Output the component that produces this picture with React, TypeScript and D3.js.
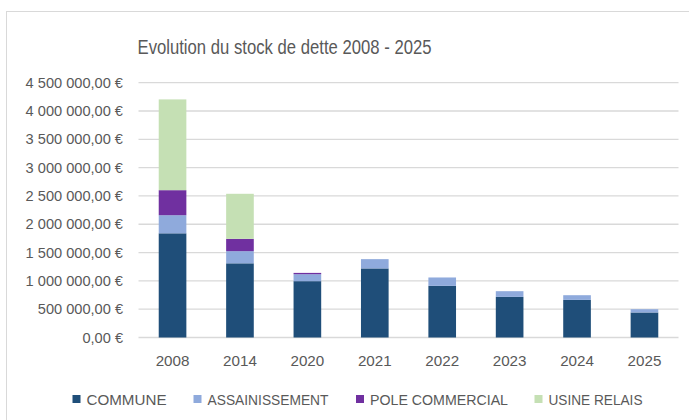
import React from 'react';
import * as d3 from 'd3';

const years = ['2008', '2014', '2020', '2021', '2022', '2023', '2024', '2025'];
const commune = [1840000, 1310000, 995000, 1220000, 912000, 717000, 664000, 442000];
const assainissement = [320000, 215000, 123000, 164000, 148000, 101000, 83000, 58000];
const poleCommercial = [442000, 217000, 23000, 0, 0, 0, 0, 0];
const usineRelais = [1603000, 796000, 0, 0, 0, 0, 0, 0];
const seriesNames = ['COMMUNE', 'ASSAINISSEMENT', 'POLE COMMERCIAL', 'USINE RELAIS'];
const yTicks = [0, 500000, 1000000, 1500000, 2000000, 2500000, 3000000, 3500000, 4000000, 4500000];

const colors = ['#1F4E79', '#8FAADC', '#7030A0', '#C5E0B4'];
const legendX = [72.5, 193.5, 356, 534.5];
const legendW = [80, 121, 138, 94];
const FONT = "'Liberation Sans', Arial, sans-serif";
const TEXT = '#595959';

function fmt(v: number): string {
  const s = Math.round(v).toString().replace(/\B(?=(\d{3})+(?!\d))/g, ' ');
  return s + ',00 €';
}

export default function App() {
  const W = 689, H = 420;
  const x = d3.scaleBand<string>().domain(years).range([138.5, 678.5]).paddingInner(0.59).paddingOuter(0.3);
  const y = d3.scaleLinear().domain([0, 4500000]).range([337.5, 82.7]);

  const rows = years.map((yr, i) => ({
    year: yr,
    COMMUNE: commune[i],
    ASSAINISSEMENT: assainissement[i],
    'POLE COMMERCIAL': poleCommercial[i],
    'USINE RELAIS': usineRelais[i],
  }));
  const stacked = d3.stack<any>().keys(seriesNames)(rows);

  return (
    <svg width={W} height={H} style={{ position: 'absolute', left: 0, top: 0, background: '#fff' }}>
      <rect x={6.5} y={11.5} width={W + 10} height={H + 10} fill="#fff" stroke="#d9d9d9" strokeWidth={1} />
      <text x={137.5} y={54} textLength={294} lengthAdjust="spacingAndGlyphs" fontFamily={FONT} fontSize={20.5} fill={TEXT}>
        Evolution du stock de dette 2008 - 2025
      </text>
      {yTicks.map((t) => (
        <g key={t}>
          <line x1={138.5} x2={678.5} y1={y(t)} y2={y(t)} stroke="#d9d9d9" strokeWidth={1.3} />
          <text x={123} y={y(t)} dy="0.35em" textAnchor="end" fontFamily={FONT} fontSize={14.6} fill={TEXT}>
            {fmt(t)}
          </text>
        </g>
      ))}
      {stacked.map((s, si) => (
        <g key={s.key} fill={colors[si]}>
          {s.map((d, i) => {
            const h = y(d[0]) - y(d[1]);
            if (h <= 0) return null;
            return <rect key={i} x={x(years[i])} width={x.bandwidth()} y={y(d[1])} height={h} />;
          })}
        </g>
      ))}
      {years.map((yr) => (
        <text key={yr} x={(x(yr) as number) + x.bandwidth() / 2} y={366} textAnchor="middle" fontFamily={FONT} fontSize={15.2} fill={TEXT}>
          {yr}
        </text>
      ))}
      {seriesNames.map((n, i) => (
        <g key={n}>
          <rect x={legendX[i]} y={395} width={8} height={8} fill={colors[i]} />
          <text x={legendX[i] + 14} y={404.5} textLength={legendW[i]} lengthAdjust="spacingAndGlyphs" fontFamily={FONT} fontSize={15} fill={TEXT}>
            {n}
          </text>
        </g>
      ))}
    </svg>
  );
}
